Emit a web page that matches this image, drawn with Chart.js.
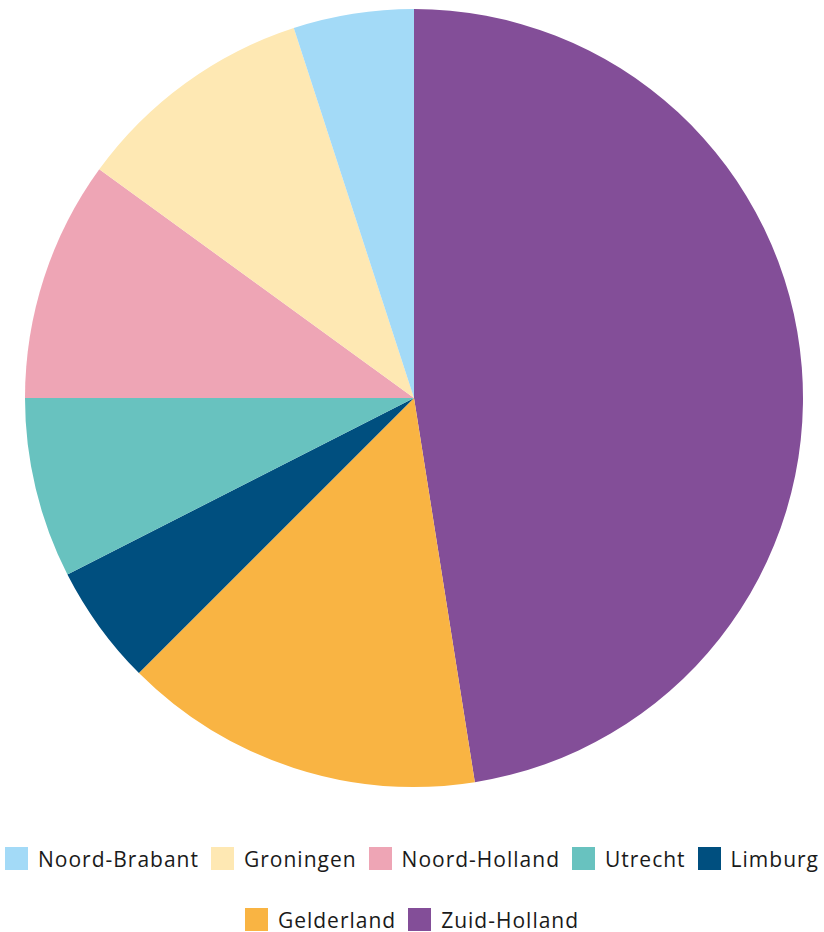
<!DOCTYPE html>
<html>
<head>
<meta charset="utf-8">
<script src="https://cdn.jsdelivr.net/npm/chart.js@4/dist/chart.umd.min.js"></script>
<style>
  html, body { margin: 0; padding: 0; background: #fff; }
  #wrap { position: relative; width: 824px; height: 800px; }
  #legend {
    position: absolute; left: 0; top: 847px; width: 824px;
    display: flex; flex-wrap: wrap; justify-content: center;
    row-gap: 38px; column-gap: 12px;
    font-family: "Open Sans", sans-serif; font-size: 21px;
    letter-spacing: 1px; color: #1a1a1a;
  }
  .item { display: flex; align-items: center; height: 23px; white-space: nowrap; }
  .box { width: 23px; height: 23px; margin-right: 10px; }
</style>
</head>
<body>
<div id="wrap"><canvas id="pie"></canvas></div>
<div id="legend"></div>
<script>
// Provinces in legend order
const provinces = ['Noord-Brabant', 'Groningen', 'Noord-Holland', 'Utrecht', 'Limburg', 'Gelderland', 'Zuid-Holland'];
const shares = [5, 10, 10, 7.5, 5, 15, 47.5];
const colors = ['#a3daf7', '#fee8b3', '#eea5b5', '#68c2bf', '#004f7f', '#f9b443', '#834e98'];

// The pie runs counter-clockwise in legend order, Chart.js draws clockwise: feed it reversed
const order = provinces.map((_, i) => provinces.length - 1 - i);

const ctx = document.getElementById('pie').getContext('2d');
const pieChart = new Chart(ctx, {
    type: 'pie',
    data: {
        labels: order.map(i => provinces[i]),
        datasets: [{
            data: order.map(i => shares[i]),
            backgroundColor: order.map(i => colors[i]),
            borderWidth: 0
        }]
    },
    options: {
        responsive: true,
        maintainAspectRatio: false,
        animation: false,
        layout: { padding: { top: 9, left: 25, right: 21, bottom: 13 } },
        plugins: {
            legend: { display: false },
            tooltip: { enabled: false }
        }
    }
});

// HTML legend, in the original order; first row holds five items
const legend = document.getElementById('legend');
provinces.forEach((name, i) => {
    const item = document.createElement('div');
    item.className = 'item';
    const box = document.createElement('span');
    box.className = 'box';
    box.style.background = colors[i];
    const label = document.createElement('span');
    label.textContent = name;
    item.appendChild(box);
    item.appendChild(label);
    legend.appendChild(item);
});
</script>
</body>
</html>
